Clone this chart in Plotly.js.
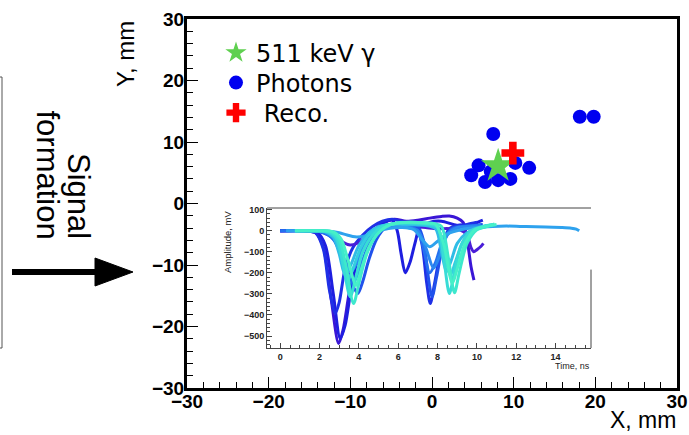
<!DOCTYPE html>
<html>
<head>
<meta charset="utf-8">
<script src="https://cdn.plot.ly/plotly-3.0.1.min.js"></script>
<style>html,body{margin:0;padding:0;background:#fff;}#chart{width:689px;height:435px;}</style>
</head>
<body>
<div id="chart"></div>
<script>
// ---- main scatter data (mm) ----
const photonX = [18.1, 19.8, 7.5, 5.7, 4.8, 6.5, 8.1, 9.6, 10.2, 11.9, 7.2];
const photonY = [14.1, 14.1, 11.3, 6.2, 4.6, 3.5, 3.8, 4.0, 6.6, 5.8, 5.2];
const trueX = [8.1];
const trueY = [6.1];
const recoX = [9.9];
const recoY = [8.2];
const legendNames = ["511 keV \u03b3", "Photons", " Reco."];

// ---- inset waveforms (time ns, amplitude mV) ----
const wA_t = [0,1.2,1.8,2.2,2.6,2.97,3.2,3.5,3.8,4.2,4.7,5.2,5.8,6.4,7.0,7.6,8.2,8.6,9.0,9.3,9.5,9.7,9.85];
const wA_v = [0,0,-10,-80,-330,-536,-470,-300,-170,-80,-10,35,55,45,50,60,68,70,60,40,-40,-170,-235];
const wB_t = [0,1.2,1.9,2.3,2.7,3.05,3.3,3.6,3.9,4.3,4.8,5.3,5.7,5.95,6.15,6.36,6.6,6.85,7.1,7.6,8.2,8.8,9.4,9.9,10.3];
const wB_v = [0,0,-10,-70,-300,-512,-450,-280,-150,-60,0,40,50,0,-110,-200,-150,-60,15,40,45,30,20,35,50];
const wC_t = [0,1.2,1.8,2.2,2.5,2.8,3.0,3.3,3.7,4.2,4.7,5.2,5.7,6.3,6.9,7.2,7.45,7.63,7.85,8.2,8.6,9.0,9.5,10.0];
const wC_v = [0,0,-10,-90,-280,-393,-340,-180,-80,-20,20,45,55,40,20,-60,-250,-346,-250,-80,10,25,30,40];
const wD_t = [0,1.5,2.4,2.9,3.2,3.55,3.9,4.4,5.0,5.6,6.2,6.8,7.4,8.0,8.6,9.1,9.5,9.7,9.84,10.0,10.2,10.33];
const wD_v = [0,0,-5,-30,-55,-68,-60,-30,10,30,25,20,15,10,10,5,-20,-80,-100,-90,-75,-60];
const wE_t = [0,1.2,2.0,2.6,3.0,3.3,3.6,3.95,4.2,4.5,4.9,5.4,5.9,6.5,7.0,7.3,7.5,7.72,7.95,8.3,8.7,9.2,9.8,10.3];
const wE_v = [0,0,-5,-30,-80,-150,-240,-298,-240,-140,-40,20,35,30,20,-50,-200,-314,-220,-60,10,20,25,30];
const wF_t = [0,1.3,2.1,2.7,3.1,3.4,3.7,4.0,4.4,4.9,5.5,6.0,6.6,7.0,7.3,7.6,7.9,8.3,8.8,9.4,10.0];
const wF_v = [0,0,-5,-40,-120,-210,-250,-190,-90,-10,25,30,20,0,-90,-200,-150,-40,10,20,25];
const wG_t = [0.3,1.3,2.2,2.8,3.2,3.6,3.9,4.3,4.8,5.3,5.9,6.5,7.0,7.4,7.8,8.1,8.5,9.0,9.6,10.2];
const wG_v = [0,0,-5,-40,-130,-195,-150,-70,-10,20,25,15,0,-80,-178,-120,-20,15,20,25];
const wH_t = [0.3,1.5,2.5,3.0,3.4,3.8,4.3,4.9,5.5,6.2,6.8,7.2,7.6,8.0,8.5,9.2,10.0,10.8,11.5,12.5,13.5,14.3,14.8,15.05,15.2];
const wH_v = [0,0,-2,-10,-20,-29,-25,-5,10,15,5,-40,-76,-50,-15,5,15,20,22,20,18,15,12,8,0];
const wI_t = [0.75,1.6,2.3,2.7,3.0,3.3,3.6,4.0,4.5,5.0,5.6,6.2,6.8,7.4,7.9,8.2,8.45,8.7,9.0,9.5,10.0,10.5];
const wI_v = [0,0,-5,-30,-110,-211,-160,-70,-10,20,30,30,28,25,10,-100,-195,-140,-60,-10,10,25];
const wJ_t = [0.75,1.6,2.4,2.8,3.1,3.44,3.7,4.1,4.6,5.1,5.7,6.3,6.9,7.5,8.0,8.35,8.65,8.9,9.3,9.8,10.3,10.7];
const wJ_v = [0,0,-5,-30,-120,-235,-180,-80,-10,20,32,35,33,30,15,-100,-211,-150,-50,0,15,28];
const wK_t = [0.75,1.7,2.5,2.9,3.2,3.56,3.85,4.2,4.7,5.2,5.8,6.4,7.0,7.6,8.0,8.3,8.6,8.85,9.2,9.7,10.2,10.8];
const wK_v = [0,0,-5,-40,-160,-314,-220,-100,-20,20,35,38,36,32,20,-120,-298,-200,-70,0,18,30];
const wL_t = [0.75,1.8,2.6,3.0,3.35,3.73,4.0,4.4,4.9,5.4,6.0,6.6,7.2,7.8,8.2,8.55,8.86,9.1,9.5,10.0,10.5,10.9];
const wL_v = [0,0,-5,-40,-170,-346,-250,-110,-20,20,38,40,38,34,20,-130,-295,-200,-60,5,20,32];
const wM_t = [0.75,1.8,2.7,3.1,3.45,3.85,4.1,4.5,5.0,5.5,6.1,6.7,7.3,7.9,8.3,8.75,9.0,9.4,9.9,10.4,11.0];
const wM_v = [0,0,-5,-40,-140,-260,-190,-80,-10,25,38,40,37,30,-60,-250,-180,-60,5,20,30];

const waveT = [wA_t,wB_t,wC_t,wD_t,wE_t,wF_t,wG_t,wH_t,wI_t,wJ_t,wK_t,wL_t,wM_t];
const waveV = [wA_v,wB_v,wC_v,wD_v,wE_v,wF_v,wG_v,wH_v,wI_v,wJ_v,wK_v,wL_v,wM_v];
const waveColors = ['#3a16d6','#1e1ee0','#1f30e6','#4a1ed8','#2052ec','#2470f0','#2a88f0','#2ea2ee',
                    '#30bce6','#34cee0','#38dcd6','#3ee8cc','#46f0c8'];

// ---- pixel -> paper helpers for layout decorations ----
const PL = 187, PR = 677, PT = 19, PB = 388;
const xp = px => (px - PL) / (PR - PL);
const yp = py => (PB - py) / (PB - PT);

const traces = [];
waveT.forEach((t, i) => {
  traces.push({
    type: 'scatter', mode: 'lines', x: t, y: waveV[i],
    xaxis: 'x2', yaxis: 'y2', showlegend: false, hoverinfo: 'skip',
    line: {color: waveColors[i], width: 3, shape: 'spline', smoothing: 0.8}
  });
});
traces.push({
  type: 'scatter', mode: 'markers', x: photonX, y: photonY, name: legendNames[1],
  legend: 'legend2', marker: {symbol: 'circle', size: 14, color: '#0000f0'}
});
traces.push({
  type: 'scatter', mode: 'markers', x: trueX, y: trueY, name: legendNames[0],
  legend: 'legend', marker: {symbol: 'star', size: 26, color: '#5fd050'}
});
traces.push({
  type: 'scatter', mode: 'markers', x: recoX, y: recoY, name: legendNames[2],
  legend: 'legend3', marker: {symbol: 'cross', size: 19, color: '#ff0000'}
});

const tickFontMain = {family: 'Liberation Sans, Arial, sans-serif', size: 19, weight: 'bold', color: '#000'};
const tickFontInset = {family: 'Liberation Sans, Arial, sans-serif', size: 9, weight: 'bold', color: '#222'};
const legFont = {family: 'DejaVu Sans, Verdana, sans-serif', size: 24, color: '#000'};
const legBase = (row) => ({
  x: xp(216), y: yp(row), xanchor: 'left', yanchor: 'middle',
  bgcolor: 'rgba(0,0,0,0)', borderwidth: 0, font: legFont, itemsizing: 'trace'
});

const layout = {
  width: 689, height: 435,
  margin: {l: PL, r: 689 - PR, t: PT, b: 435 - PB, pad: 0},
  paper_bgcolor: '#fff', plot_bgcolor: 'rgba(0,0,0,0)',
  showlegend: true,
  legend: legBase(53),
  legend2: legBase(83),
  legend3: legBase(113),
  xaxis: {
    range: [-30, 30], dtick: 10, tick0: 0, ticks: 'inside', ticklen: 11, tickwidth: 1, tickcolor: '#000',
    minor: {dtick: 2, ticks: 'inside', ticklen: 6, tickcolor: '#000', tickwidth: 1},
    showline: true, linewidth: 3, linecolor: '#000', mirror: true, ticklabelstandoff: -6,
    showgrid: false, zeroline: false, tickfont: tickFontMain, fixedrange: true
  },
  yaxis: {
    range: [-30, 30], dtick: 10, tick0: 0, ticks: 'inside', ticklen: 11, tickwidth: 1, tickcolor: '#000',
    minor: {dtick: 2, ticks: 'inside', ticklen: 6, tickcolor: '#000', tickwidth: 1},
    showline: true, linewidth: 3, linecolor: '#000', mirror: true, ticklabelstandoff: -4,
    showgrid: false, zeroline: false, tickfont: tickFontMain, fixedrange: true
  },
  xaxis2: {
    domain: [xp(267), xp(591)], anchor: 'y2', range: [-0.67, 15.8], dtick: 2, tick0: 0,
    ticks: 'inside', ticklen: 5, tickwidth: 1, tickcolor: '#444',
    minor: {dtick: 0.5, ticks: 'inside', ticklen: 3, tickcolor: '#444', tickwidth: 1},
    showline: true, linewidth: 1, linecolor: '#444', mirror: false,
    showgrid: false, zeroline: false, tickfont: tickFontInset
  },
  yaxis2: {
    domain: [yp(348), yp(208)], anchor: 'x2', range: [-557, 108], dtick: 100, tick0: 0,
    ticks: 'inside', ticklen: 5, tickwidth: 1, tickcolor: '#444',
    minor: {dtick: 20, ticks: 'inside', ticklen: 3, tickcolor: '#444', tickwidth: 1},
    showline: true, linewidth: 1, linecolor: '#444', mirror: false,
    showgrid: false, zeroline: false, tickfont: tickFontInset
  },
  shapes: [
    {type: 'line', xref: 'x2 domain', yref: 'y2 domain', x0: 0, x1: 1, y0: 1, y1: 1, line: {color: '#444', width: 1}},
    {type: 'line', xref: 'x2 domain', yref: 'y2 domain', x0: 1, x1: 1, y0: 0, y1: 0.56, line: {color: '#444', width: 1}},
    {type: 'line', xref: 'paper', yref: 'paper', x0: xp(12), x1: xp(100), y0: yp(272), y1: yp(272), line: {color: '#000', width: 6}},
    {type: 'path', xref: 'paper', yref: 'paper',
     path: `M ${xp(95)} ${yp(258)} L ${xp(133)} ${yp(272)} L ${xp(95)} ${yp(286)} Z`,
     fillcolor: '#000', line: {color: '#000', width: 1}},
    {type: 'path', xref: 'paper', yref: 'paper',
     path: `M ${xp(-3)} ${yp(77)} L ${xp(2)} ${yp(77)} L ${xp(2)} ${yp(348)} L ${xp(-3)} ${yp(348)}`,
     line: {color: '#555', width: 1}}
  ],
  annotations: [
    {text: 'Y, mm', xref: 'paper', yref: 'paper', x: xp(125), y: yp(19), xanchor: 'center', yanchor: 'top',
     textangle: -90, showarrow: false, font: {family: 'Liberation Sans, Arial, sans-serif', size: 24, color: '#000'}},
    {text: 'X, mm', xref: 'paper', yref: 'paper', x: xp(678), y: yp(420), xanchor: 'right', yanchor: 'middle',
     showarrow: false, font: {family: 'Liberation Sans, Arial, sans-serif', size: 23, color: '#000'}},
    {text: 'Signal', xref: 'paper', yref: 'paper', x: xp(78), y: yp(241), xanchor: 'center', yanchor: 'bottom',
     textangle: 90, showarrow: false, font: {family: 'Liberation Sans, Arial, sans-serif', size: 31, color: '#000'}},
    {text: 'formation', xref: 'paper', yref: 'paper', x: xp(47), y: yp(241), xanchor: 'center', yanchor: 'bottom',
     textangle: 90, showarrow: false, font: {family: 'Liberation Sans, Arial, sans-serif', size: 31, color: '#000'}},
    {text: 'Amplitude, mV', xref: 'paper', yref: 'paper', x: xp(227), y: yp(209), xanchor: 'center', yanchor: 'top',
     textangle: -90, showarrow: false, font: {family: 'Liberation Sans, Arial, sans-serif', size: 9.5, color: '#222'}},
    {text: 'Time, ns', xref: 'paper', yref: 'paper', x: xp(592), y: yp(366), xanchor: 'right', yanchor: 'middle',
     showarrow: false, font: {family: 'Liberation Sans, Arial, sans-serif', size: 9, color: '#222'}}
  ]
};

Plotly.newPlot('chart', traces, layout, {staticPlot: true, displayModeBar: false});
</script>
</body>
</html>
